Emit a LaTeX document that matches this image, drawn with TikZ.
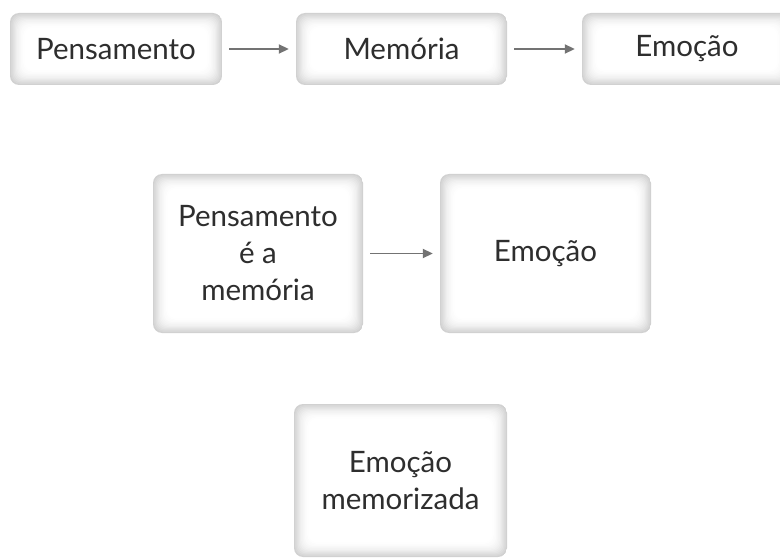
\documentclass[tikz,border=0pt]{standalone}
\usepackage{fontspec}
\setmainfont{Lato}
\usetikzlibrary{arrows.meta,calc}
\definecolor{txt}{HTML}{2E2E2E}
\definecolor{arr}{HTML}{737373}
\tikzset{
  box/.style={rounded corners=9pt, fill=white, draw=none, text=txt,
    font=\fontsize{29.5}{37}\selectfont, align=center, inner sep=0pt,
    path picture={
      \foreach \i in {0,...,13}{
        \pgfmathsetmacro\c{18*(1-\i/13)*(1-\i/13)}
        \fill[black!\c, rounded corners=9pt]
          ($(path picture bounding box.south west)+(\i*1.2,-\i*1.2)$) rectangle
          ($(path picture bounding box.north east)+(-\i*1.2,\i*1.2)$);
      }
    }},
  flow/.style={draw=arr, line width=1.9pt, -{Triangle[length=10pt,width=9pt]}, shorten <=7pt, shorten >=7pt}
}
\begin{document}
\begin{tikzpicture}[x=1pt,y=-1pt]
\useasboundingbox[fill=white] (0,0) rectangle (780,559);
\node[box, minimum width=212pt, minimum height=72pt] (b1) at (116,49) {Pensamento};
\node[box, minimum width=211pt, minimum height=72pt] (b2) at (401.5,49) {Memória};
\node[box, minimum width=210pt, minimum height=72pt] (b3) at (687,49) {Emoção};
\node[box, minimum width=210pt, minimum height=159pt] (b4) at (258,253.5) {Pensamento\\é a\\memória};
\node[box, minimum width=211pt, minimum height=159pt] (b5) at (545.5,253.5) {Emoção};
\node[box, minimum width=213pt, minimum height=153pt] (b6) at (400.5,480.5) {Emoção\\memorizada};
\draw[flow] (b1) -- (b2);
\draw[flow] (b2) -- (b3);
\draw[flow] (b4) -- (b5);
\end{tikzpicture}
\end{document}
